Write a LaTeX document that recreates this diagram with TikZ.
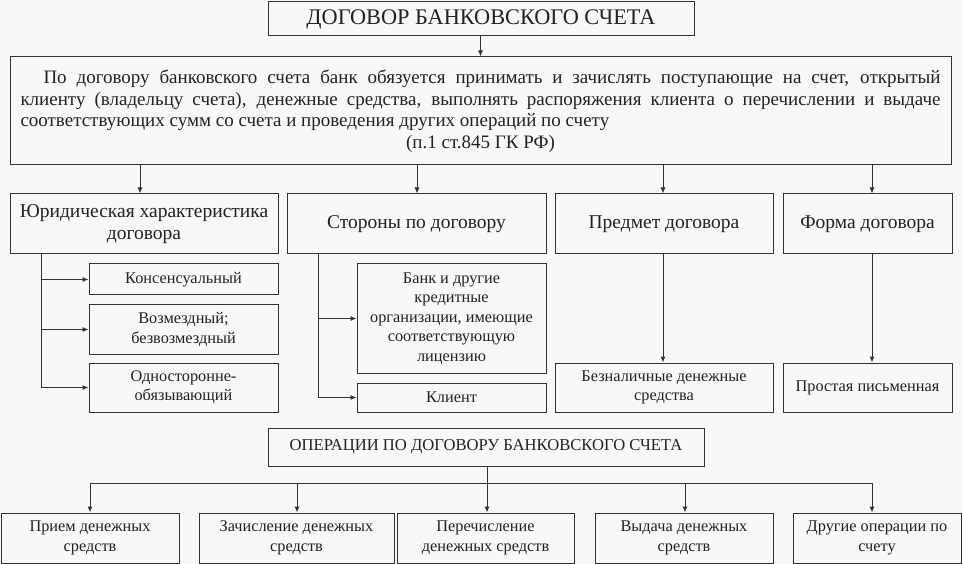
\documentclass[tikz,border=0pt]{standalone}
\usepackage{fontspec}
\setmainfont{Liberation Serif}
\usetikzlibrary{arrows.meta}
\definecolor{ink}{HTML}{222222}
\definecolor{edge}{HTML}{333333}
\definecolor{paper}{HTML}{F8F8F8}
\tikzset{
  box/.style={draw=edge, line width=1pt, inner sep=0pt, align=center, text=ink, anchor=center},
  arr/.style={draw=edge, line width=1pt, -{Latex[length=6pt,width=5pt]}},
  ln/.style={draw=edge, line width=1pt},
  ftitle/.style={font=\fontsize{22.3}{25}\selectfont},
  fbig/.style={font=\fontsize{19}{21.5}\selectfont},
  flvl/.style={font=\fontsize{19.5}{22}\selectfont},
  fsub/.style={font=\fontsize{16.3}{19.5}\selectfont},
  fops/.style={font=\fontsize{16.6}{19.5}\selectfont},
}
\begin{document}
\begin{tikzpicture}[x=1pt,y=-1pt]
\fill[paper] (0,0) rectangle (962,564);
\useasboundingbox (0,0) rectangle (962,564);

% title
\node[box, ftitle, minimum width=426pt, minimum height=34pt] (title) at (481,19) {ДОГОВОР БАНКОВСКОГО СЧЕТА};

% definition
\node[box, fbig, minimum width=941pt, minimum height=108pt] (def) at (480.5,111) {%
\makebox[920pt][s]{\hspace{23pt}По договору банковского счета банк обязуется принимать и зачислять поступающие на счет, открытый}\\
\makebox[920pt][s]{клиенту (владельцу счета), денежные средства, выполнять распоряжения клиента о перечислении и выдаче}\\
\makebox[920pt][l]{соответствующих сумм со счета и проведения других операций по счету}\\
(п.1 ст.845 ГК РФ)};

% level 2
\node[box, flvl, minimum width=268pt, minimum height=60pt] (jur) at (144,224) {Юридическая характеристика\\договора};
\node[box, flvl, minimum width=259pt, minimum height=60pt] (side) at (416.5,224) {Стороны по договору};
\node[box, flvl, minimum width=218pt, minimum height=60pt] (subj) at (664,224) {Предмет договора};
\node[box, flvl, minimum width=169pt, minimum height=60pt] (form) at (867.5,224) {Форма договора};

% jur sub
\node[box, fsub, minimum width=189pt, minimum height=31pt] (kons) at (183.5,279.5) {Консенсуальный};
\node[box, fsub, minimum width=189pt, minimum height=49pt] (vozm) at (183.5,329.5) {Возмездный;\\безвозмездный};
\node[box, fsub, minimum width=189pt, minimum height=49pt] (odno) at (183.5,387.5) {Односторонне-\\обязывающий};

% side sub
\node[box, fsub, minimum width=189pt, minimum height=109pt] (bank) at (451.5,318.5) {Банк и другие\\кредитные\\организации, имеющие\\соответствующую\\лицензию};
\node[box, fsub, minimum width=189pt, minimum height=29pt] (client) at (451.5,397.5) {Клиент};

% subj / form sub
\node[box, fsub, minimum width=218pt, minimum height=49pt] (money) at (664,387.5) {Безналичные денежные\\средства};
\node[box, fsub, minimum width=169pt, minimum height=49pt] (writ) at (867.5,387.5) {Простая письменная};

% operations
\node[box, fops, minimum width=436pt, minimum height=38pt] (ops) at (486,447) {ОПЕРАЦИИ ПО ДОГОВОРУ БАНКОВСКОГО СЧЕТА};
\node[box, fsub, minimum width=178pt, minimum height=50pt] (b1) at (90,538) {Прием денежных\\средств};
\node[box, fsub, minimum width=195pt, minimum height=50pt] (b2) at (296.5,538) {Зачисление денежных\\средств};
\node[box, fsub, minimum width=177pt, minimum height=50pt] (b3) at (485.5,538) {Перечисление\\денежных средств};
\node[box, fsub, minimum width=178pt, minimum height=50pt] (b4) at (684,538) {Выдача денежных\\средств};
\node[box, fsub, minimum width=168pt, minimum height=50pt] (b5) at (877,538) {Другие операции по\\счету};

% connectors
\draw[arr] (title.south -| def.north) -- (def.north);
\foreach \n/\xx in {jur/140,side/417,subj/663,form/872}{
  \draw[arr] (\xx,0 |- def.south) -- (\xx,0 |- \n.north);
}
% jur trunk
\coordinate (jt) at (41,254);
\draw[ln] (jt) -- (41,387.5);
\foreach \n in {kons,vozm,odno}{ \draw[arr] (jt |- \n.west) -- (\n.west); }
% side trunk
\coordinate (st) at (318,254);
\draw[ln] (st) -- (318,397.5);
\foreach \n in {bank,client}{ \draw[arr] (st |- \n.west) -- (\n.west); }
\draw[arr] (663,0 |- subj.south) -- (663,0 |- money.north);
\draw[arr] (872,0 |- form.south) -- (872,0 |- writ.north);
% ops bus
\coordinate (bus) at (487,483);
\draw[ln] (bus |- ops.south) -- (bus);
\draw[ln] (b1.north |- bus) -- (872,483);
\foreach \n/\xx in {b1/90,b2/297,b3/487,b4/685,b5/872}{
  \draw[arr] (\xx,483) -- (\xx,0 |- \n.north);
}
\end{tikzpicture}
\end{document}
